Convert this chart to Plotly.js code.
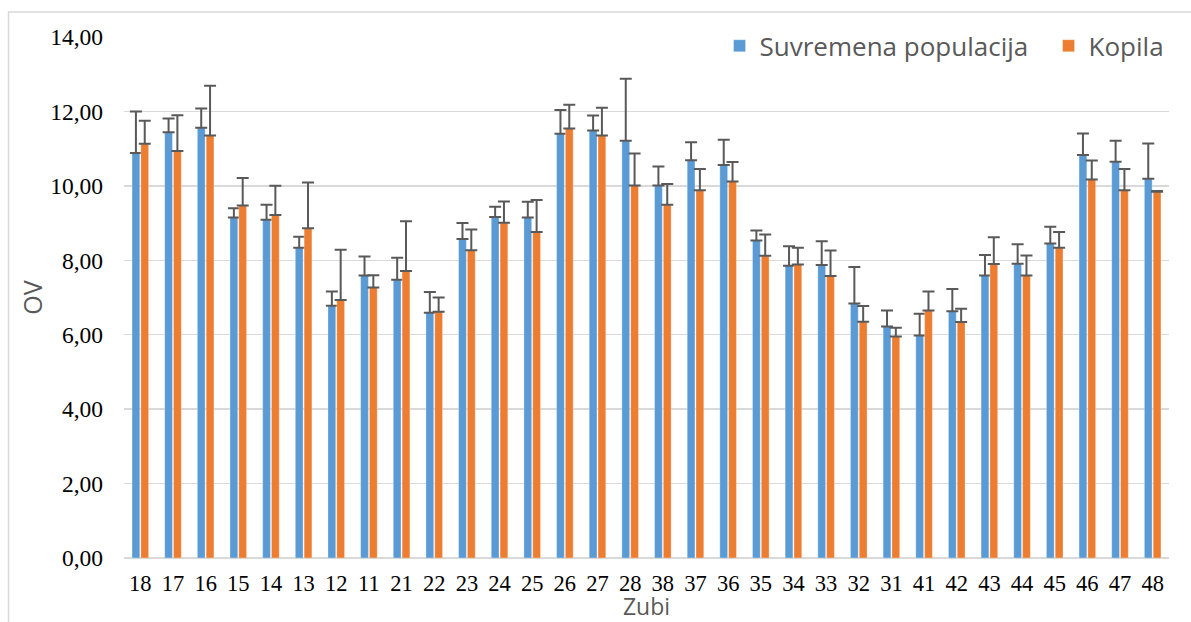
<!DOCTYPE html>
<html>
<head>
<meta charset="utf-8">
<script src="https://cdn.plot.ly/plotly-3.0.1.min.js"></script>
<style>
  html, body { margin: 0; padding: 0; background: #ffffff; }
  #chart { width: 1191px; height: 622px; }
</style>
</head>
<body>
<div id="chart"></div>
<script>
const categories = ['18','17','16','15','14','13','12','11','21','22','23','24','25','26','27','28','38','37','36','35','34','33','32','31','41','42','43','44','45','46','47','48'];

const suvremena = [10.88, 11.44, 11.56, 9.15, 9.09, 8.34, 6.78, 7.59, 7.48, 6.59, 8.57, 9.16, 9.15, 11.40, 11.49, 11.21, 10.01, 10.69, 10.56, 8.53, 7.85, 7.87, 6.84, 6.22, 5.98, 6.63, 7.59, 7.91, 8.45, 10.83, 10.65, 10.19];
const suvremenaErr = [1.12, 0.37, 0.52, 0.25, 0.40, 0.29, 0.38, 0.51, 0.59, 0.56, 0.43, 0.28, 0.42, 0.64, 0.40, 1.67, 0.51, 0.48, 0.68, 0.27, 0.53, 0.64, 0.98, 0.43, 0.58, 0.60, 0.55, 0.52, 0.45, 0.58, 0.56, 0.95];

const kopila = [11.13, 10.94, 11.35, 9.47, 9.22, 8.86, 6.93, 7.27, 7.71, 6.62, 8.27, 9.01, 8.76, 11.54, 11.35, 10.01, 9.49, 9.88, 10.12, 8.12, 7.89, 7.58, 6.35, 5.95, 6.65, 6.34, 7.90, 7.59, 8.34, 10.17, 9.88, 9.84];
const kopilaErr = [0.62, 0.96, 1.34, 0.74, 0.78, 1.23, 1.35, 0.33, 1.34, 0.38, 0.56, 0.57, 0.86, 0.64, 0.75, 0.86, 0.56, 0.57, 0.52, 0.57, 0.45, 0.68, 0.42, 0.24, 0.51, 0.36, 0.72, 0.54, 0.42, 0.51, 0.57, 0.02];

const seriesNames = ['Suvremena populacija', 'Kopila'];
const yTickVals = [0, 2, 4, 6, 8, 10, 12, 14];

const errStyle = { type: 'data', symmetric: false, color: '#595959', thickness: 2, width: 6 };

const traces = [
  {
    type: 'bar', name: seriesNames[0], x: categories, y: suvremena,
    legendwidth: 284,
    marker: { color: '#5B9BD5', line: { color: 'rgba(255,255,255,0.6)', width: 0.5 } },
    error_y: Object.assign({}, errStyle, { array: suvremenaErr, arrayminus: suvremenaErr.map(() => 0) })
  },
  {
    type: 'bar', name: seriesNames[1], x: categories, y: kopila,
    marker: { color: '#ED7D31', line: { color: 'rgba(255,255,255,0.6)', width: 0.5 } },
    error_y: Object.assign({}, errStyle, { array: kopilaErr, arrayminus: kopilaErr.map(() => 0) })
  }
];

const layout = {
  width: 1191, height: 622,
  margin: { l: 124, r: 22, t: 37, b: 64 },
  paper_bgcolor: '#ffffff', plot_bgcolor: '#ffffff',
  separators: ',.',
  barmode: 'group', bargap: 0.46, bargroupgap: 0.12,
  showlegend: true,
  legend: {
    orientation: 'h', x: 0.5699, xanchor: 'left', y: 0.983, yanchor: 'middle',
    bgcolor: 'rgba(0,0,0,0)', traceorder: 'normal',
    font: { family: 'Open Sans, Noto Sans, sans-serif', size: 26, color: '#595959' }
  },
  xaxis: {
    type: 'category', tickvals: categories, ticktext: categories, tickangle: 0,
    showgrid: false, showline: false, ticks: '', ticklabelstandoff: 9,
    tickfont: { family: 'Liberation Serif, Times New Roman, serif', size: 22.5, color: '#000000' },
    title: { text: 'Zubi', standoff: 8, font: { family: 'Open Sans, Noto Sans, sans-serif', size: 23, color: '#595959' } },
    automargin: false
  },
  yaxis: {
    range: [0, 14], tickvals: yTickVals, tickformat: '.2f',
    showgrid: true, gridcolor: '#D9D9D9', gridwidth: 1.5,
    zeroline: true, zerolinecolor: '#D9D9D9', zerolinewidth: 1.5,
    showline: false, ticks: '', ticklabelstandoff: 20,
    tickfont: { family: 'Liberation Serif, Times New Roman, serif', size: 23.5, color: '#000000' },
    title: { text: 'OV', standoff: 0, font: { family: 'Open Sans, Noto Sans, sans-serif', size: 25, color: '#595959' } },
    automargin: false
  },
  shapes: [
    { type: 'rect', xref: 'paper', yref: 'paper', x0: -0.1105, x1: 1.05, y0: -0.3, y1: 1.048,
      line: { color: '#D9D9D9', width: 1.5 }, fillcolor: 'rgba(0,0,0,0)', layer: 'below' }
  ]
};

Plotly.newPlot('chart', traces, layout, { displayModeBar: false, staticPlot: true });
</script>
</body>
</html>
